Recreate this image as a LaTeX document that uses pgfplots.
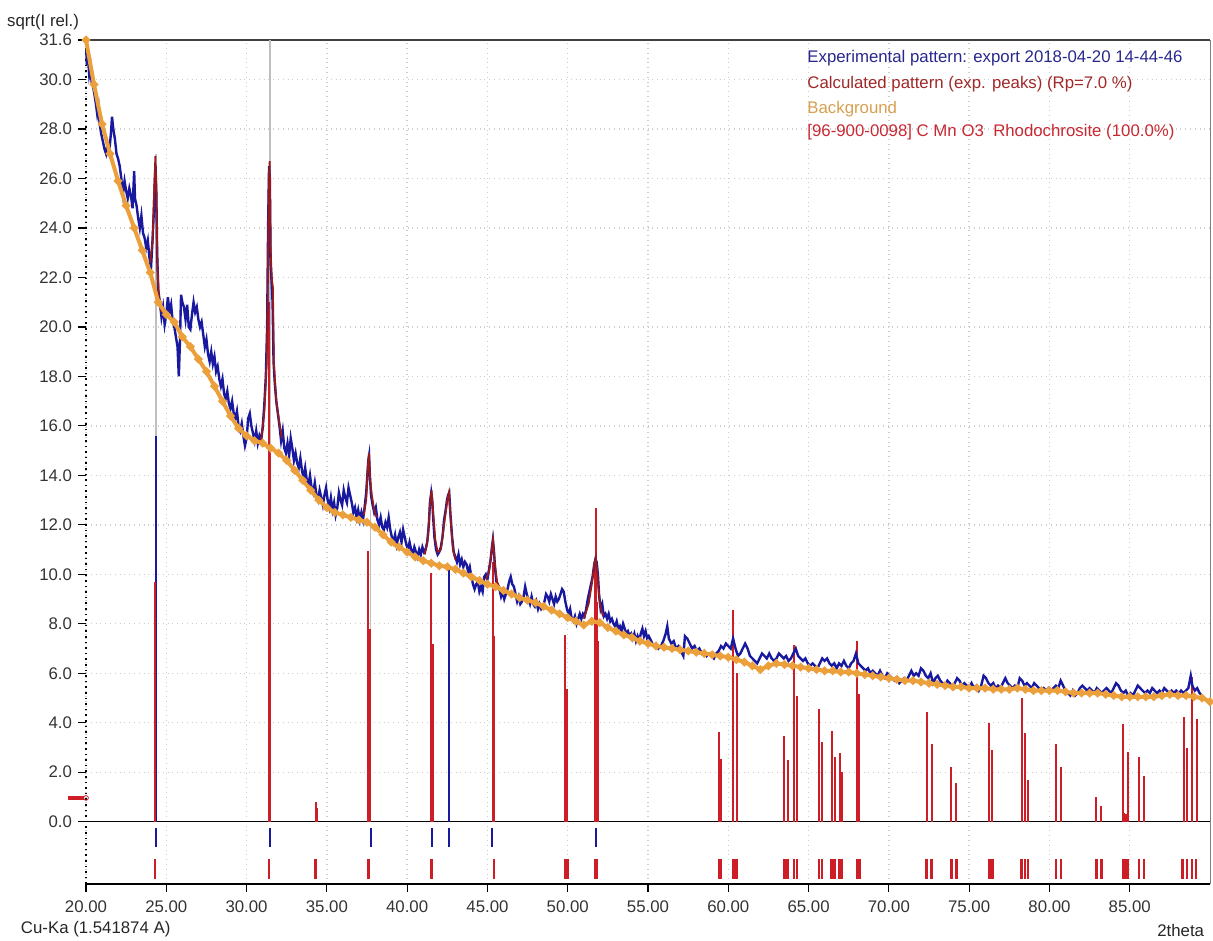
\documentclass[border=0pt]{standalone}
\usepackage{fontspec}
\setmainfont{Liberation Sans}
\usepackage{pgfplots}
\pgfplotsset{compat=1.18}
\definecolor{expblue}{RGB}{25,25,160}
\definecolor{calcred}{RGB}{150,25,30}
\definecolor{bgorange}{RGB}{235,160,60}
\definecolor{stickred}{RGB}{205,30,40}
\definecolor{gridgray}{RGB}{205,205,205}
\definecolor{legblue}{RGB}{40,40,140}
\definecolor{legcalc}{RGB}{160,40,40}
\definecolor{legbg}{RGB}{215,160,80}
\definecolor{legref}{RGB}{200,40,50}
\begin{document}
\fontsize{8.4}{10}\selectfont
\begin{tikzpicture}
\begin{axis}[name=ax,
  scale only axis, width=562pt, height=422pt,
  xmin=20, xmax=90, ymin=-2.52, ymax=31.6,
  clip=false,
  axis line style={draw=none},
  xtick={20,25,...,85}, ytick={0,2,...,30,31.6},
  xtick pos=left, ytick pos=left,
  tick align=outside, major tick length=4pt,
  tick style={black, line width=0.6pt},
  grid=major, major grid style={gridgray, dotted, line width=0.7pt},
  /pgf/number format/assume math mode=true,
  tick label style={font=\fontsize{8.4}{10}\selectfont, text=black!80},
  xticklabel style={yshift=-1.5pt, /pgf/number format/.cd, fixed, fixed zerofill, precision=2},
  yticklabel style={/pgf/number format/.cd, fixed, fixed zerofill, precision=1},
]
% frame
\draw[black!75, line width=1.2pt] (rel axis cs:0,1) -- (rel axis cs:1,1);
\draw[black, dotted, line width=0.8pt] (rel axis cs:0,0) -- (rel axis cs:0,1);
\draw[black, line width=0.8pt] (rel axis cs:0,0) -- (rel axis cs:1,0);
\draw[gray, line width=0.4pt] (rel axis cs:1,0) -- (rel axis cs:1,1);
\draw[black, line width=0.8pt] (axis cs:20,0) -- (axis cs:90,0);

% gray exp-peak guide lines
\addplot[ycomb, black!25, line width=0.6pt] coordinates {(24.36,27.0) (31.46,31.6) (37.73,12.6)};
% navy exp peak sticks
\addplot[ycomb, expblue, line width=0.9pt] coordinates {(24.36,15.6) (42.60,10.3)};

% reference sticks (Rhodochrosite)
\addplot[ycomb, stickred, line width=1.0pt] coordinates {
(24.30,9.7) (31.40,21.0) (31.47,14.9) (34.30,0.78) (34.37,0.56)
(37.58,10.96) (37.66,7.8) (41.50,10.07) (41.58,7.2) (45.32,10.5) (45.40,7.5)
(49.83,7.55) (49.97,5.35) (51.70,10.3) (51.76,12.67) (51.82,8.9) (51.88,7.3)
(59.43,3.64) (59.54,2.53) (60.31,8.56) (60.52,6.0) (63.50,3.48) (63.69,2.49)
(64.09,7.14) (64.27,5.08) (65.64,4.55) (65.83,3.23) (66.43,3.68) (66.62,2.61)
(66.93,2.79) (67.09,2.0) (68.01,7.30) (68.17,5.15) (72.36,4.45) (72.66,3.14)
(73.90,2.22) (74.21,1.55) (76.25,3.98) (76.44,2.90) (78.26,4.99) (78.47,3.57)
(78.67,1.69) (80.40,3.13) (80.71,2.22) (82.93,0.99) (83.24,0.65)
(84.59,3.95) (84.66,0.35) (84.74,0.3) (84.82,0.25) (84.90,2.80)
(85.57,2.63) (85.88,1.86) (88.39,4.25) (88.56,2.97) (88.87,5.84) (89.16,4.14)};

% experimental pattern
\addplot[expblue, line width=1.2pt] table {
20.02 31.2
20.05 30.6
20.12 30.9
20.20 30.2
20.28 30.5
20.35 29.9
20.45 29.7
20.55 29.3
20.62 29.0
20.70 28.6
20.78 28.9
20.85 28.2
20.95 27.8
21.05 27.5
21.15 27.2
21.25 27.0
21.35 27.4
21.45 27.1
21.55 27.8
21.62 28.5
21.70 28.0
21.80 27.6
21.90 27.0
22.00 26.8
22.10 26.5
22.20 26.0
22.30 25.4
22.40 25.9
22.50 25.5
22.60 25.2
22.70 25.6
22.80 25.3
22.90 24.8
23.00 26.3
23.05 25.2
23.15 24.9
23.25 24.4
23.35 24.0
23.45 24.5
23.55 23.8
23.65 23.6
23.75 23.2
23.85 23.5
23.95 22.8
24.05 22.4
24.15 23.6
24.22 24.6
24.28 25.8
24.33 26.5
24.38 25.4
24.43 23.0
24.50 21.5
24.60 21.0
24.70 20.4
24.80 20.8
24.90 20.1
25.00 20.5
25.10 21.2
25.20 20.6
25.30 20.9
25.40 20.2
25.50 20.0
25.60 19.6
25.70 19.2
25.78 18.0
25.85 19.4
25.92 21.3
26.00 21.0
26.10 20.8
26.20 20.3
26.30 20.9
26.40 20.0
26.50 19.9
26.60 20.5
26.70 21.0
26.80 20.6
26.90 20.8
27.00 20.3
27.10 20.0
27.20 20.2
27.30 19.7
27.40 19.2
27.50 19.5
27.60 18.9
27.70 18.6
27.80 19.0
27.90 18.5
28.00 18.8
28.10 18.2
28.20 18.4
28.30 17.9
28.40 17.6
28.50 17.9
28.60 17.3
28.70 17.1
28.80 17.4
28.90 16.9
29.00 16.7
29.10 17.0
29.20 16.5
29.30 16.3
29.40 16.6
29.50 16.0
29.60 15.8
29.70 16.1
29.80 15.6
29.90 15.2
30.00 15.5
30.10 16.3
30.20 16.5
30.30 16.0
30.40 15.7
30.50 15.4
30.60 15.8
30.70 15.3
30.80 15.6
30.90 15.4
31.00 15.9
31.10 16.8
31.20 18.0
31.28 20.0
31.34 24.0
31.40 26.5
31.45 26.0
31.50 22.5
31.56 21.8
31.62 21.0
31.68 18.6
31.75 17.8
31.85 17.0
31.95 16.5
32.05 16.0
32.15 15.4
32.25 15.8
32.35 15.1
32.45 14.9
32.55 15.3
32.65 14.8
32.75 15.5
32.85 15.1
32.95 14.6
33.05 14.9
33.15 14.5
33.25 14.3
33.35 14.7
33.45 14.2
33.55 13.9
33.65 14.3
33.75 13.8
33.85 13.6
33.95 14.0
34.05 13.5
34.15 13.3
34.25 13.7
34.35 13.2
34.45 13.0
34.55 13.4
34.65 13.1
34.75 12.8
34.85 13.2
34.95 13.5
35.05 13.0
35.15 12.7
35.25 13.1
35.35 12.6
35.45 12.9
35.55 12.4
35.65 12.7
35.75 13.3
35.85 13.0
35.95 12.8
36.05 13.4
36.15 13.1
36.25 12.9
36.35 13.5
36.45 13.2
36.55 12.9
36.65 12.5
36.75 12.7
36.85 12.3
36.95 12.6
37.05 12.2
37.15 12.5
37.25 12.2
37.35 12.7
37.45 13.3
37.52 14.0
37.58 14.6
37.63 14.8
37.68 14.0
37.75 13.2
37.85 12.8
37.95 12.5
38.05 12.7
38.15 12.2
38.25 12.0
38.35 12.3
38.45 11.9
38.55 11.8
38.65 12.1
38.75 11.9
38.85 12.3
38.95 11.8
39.05 11.5
39.15 11.3
39.25 11.6
39.35 11.2
39.45 11.5
39.55 11.7
39.65 11.3
39.75 11.8
39.85 11.5
39.95 11.2
40.05 11.0
40.15 11.3
40.25 11.0
40.35 10.8
40.45 11.1
40.55 10.9
40.65 10.7
40.75 11.0
40.85 10.8
40.95 11.1
41.05 10.9
41.15 11.0
41.25 11.3
41.35 12.0
41.42 12.9
41.50 13.3
41.56 13.0
41.63 12.2
41.70 11.5
41.80 11.0
41.90 10.8
42.00 10.9
42.10 11.1
42.20 11.5
42.30 12.2
42.40 12.6
42.48 13.0
42.55 13.2
42.62 13.3
42.70 12.4
42.80 11.5
42.90 10.9
43.00 10.7
43.10 10.5
43.20 10.8
43.30 10.4
43.40 10.6
43.50 10.3
43.60 10.5
43.70 10.4
43.80 10.1
43.90 10.3
44.00 9.9
44.10 9.6
44.20 9.4
44.30 9.6
44.40 9.7
44.50 9.3
44.60 9.5
44.70 9.3
44.80 9.9
44.90 10.0
45.00 9.8
45.10 10.2
45.20 10.6
45.28 11.1
45.34 11.4
45.40 11.0
45.48 10.2
45.56 9.7
45.65 9.5
45.75 9.4
45.85 9.1
45.95 9.3
46.05 9.0
46.15 9.2
46.25 9.4
46.35 9.7
46.45 9.9
46.55 9.6
46.65 9.5
46.75 9.2
46.85 8.9
46.95 9.1
47.05 8.8
47.15 8.9
47.25 9.1
47.35 9.5
47.45 9.2
47.55 9.0
47.65 8.8
47.75 9.1
47.85 8.8
47.95 8.7
48.05 8.9
48.15 8.6
48.25 8.8
48.35 8.6
48.45 8.7
48.55 8.9
48.65 9.2
48.75 9.1
48.85 8.9
48.95 9.2
49.05 9.0
49.15 8.8
49.25 9.1
49.35 8.9
49.45 9.0
49.55 9.2
49.65 9.4
49.75 9.3
49.85 8.9
49.95 8.6
50.05 8.4
50.15 8.6
50.25 8.2
50.35 8.1
50.45 8.3
50.55 8.0
50.65 8.2
50.75 8.4
50.85 8.2
50.95 8.4
51.05 8.3
51.15 8.6
51.25 9.0
51.35 9.3
51.45 9.6
51.55 9.9
51.65 10.4
51.72 10.6
51.80 10.5
51.88 10.0
51.95 9.2
52.05 8.6
52.15 8.8
52.25 8.3
52.35 8.4
52.45 8.2
52.55 8.4
52.65 8.1
52.75 8.2
52.85 8.0
52.95 7.9
53.05 8.1
53.15 7.8
53.25 7.9
53.35 7.7
53.45 8.0
53.55 7.8
53.65 7.6
53.75 7.7
53.85 7.5
53.95 7.6
54.05 7.4
54.15 7.6
54.25 7.3
54.35 7.5
54.45 7.3
54.55 7.6
54.65 7.8
54.75 7.5
54.85 7.7
54.95 7.4
55.05 7.5
55.20 7.3
55.35 7.1
55.50 7.2
55.65 7.0
55.80 7.1
55.95 7.3
56.10 7.6
56.20 7.9
56.30 7.4
56.45 7.2
56.60 7.3
56.75 7.0
56.90 7.1
57.05 6.9
57.20 6.7
57.30 7.5
57.45 7.4
57.60 7.2
57.75 7.0
57.90 7.1
58.05 6.9
58.20 7.0
58.35 6.8
58.50 6.9
58.65 6.7
58.80 6.8
58.95 6.7
59.10 6.6
59.25 6.8
59.40 6.9
59.55 7.1
59.70 7.0
59.85 7.2
60.00 7.1
60.15 7.0
60.30 7.4
60.45 7.0
60.60 6.7
60.75 6.8
60.90 7.0
61.05 7.2
61.20 7.0
61.35 6.7
61.50 6.6
61.65 6.5
61.80 6.4
61.95 6.6
62.10 6.8
62.25 6.7
62.40 6.6
62.55 6.8
62.70 6.6
62.85 6.5
63.00 6.6
63.15 6.8
63.30 6.7
63.45 6.6
63.60 6.7
63.75 6.5
63.90 6.6
64.05 6.8
64.20 7.0
64.35 6.7
64.50 6.6
64.65 6.5
64.80 6.6
64.95 6.4
65.10 6.3
65.25 6.4
65.40 6.3
65.55 6.2
65.70 6.4
65.85 6.6
66.00 6.5
66.15 6.6
66.30 6.4
66.45 6.3
66.60 6.4
66.75 6.2
66.90 6.4
67.05 6.3
67.20 6.5
67.35 6.3
67.50 6.2
67.65 6.4
67.80 6.5
67.95 6.8
68.10 6.4
68.25 6.3
68.40 6.2
68.55 6.1
68.70 6.2
68.85 6.0
69.00 6.1
69.15 6.0
69.30 5.9
69.45 6.1
69.60 5.9
69.75 5.8
69.90 6.0
70.05 5.9
70.20 5.8
70.35 5.7
70.50 5.8
70.65 5.6
70.80 5.7
70.95 5.8
71.10 5.7
71.25 5.9
71.40 6.1
71.55 5.9
71.70 6.0
71.85 5.9
72.00 6.2
72.15 6.1
72.30 5.9
72.45 5.8
72.60 6.0
72.75 5.6
72.90 5.8
73.05 5.9
73.20 5.7
73.35 5.6
73.50 5.5
73.65 5.7
73.80 5.6
73.95 5.4
74.10 5.6
74.25 5.8
74.40 5.7
74.55 5.5
74.70 5.6
74.85 5.5
75.00 5.4
75.15 5.6
75.30 5.4
75.45 5.5
75.60 5.3
75.75 5.5
75.90 5.9
76.05 5.8
76.20 5.6
76.35 5.5
76.50 5.6
76.65 5.4
76.80 5.5
76.95 5.4
77.10 5.6
77.25 5.8
77.40 5.6
77.55 5.5
77.70 5.4
77.85 5.5
78.00 5.4
78.15 5.8
78.30 5.7
78.45 5.5
78.60 5.6
78.75 5.5
78.90 5.4
79.05 5.6
79.20 5.5
79.35 5.4
79.50 5.3
79.65 5.4
79.80 5.3
79.95 5.4
80.10 5.3
80.25 5.4
80.40 5.5
80.55 5.4
80.70 5.7
80.85 5.5
81.00 5.3
81.15 5.2
81.30 5.1
81.45 5.3
81.60 5.1
81.75 5.2
81.90 5.4
82.05 5.5
82.20 5.4
82.35 5.3
82.50 5.4
82.65 5.3
82.80 5.2
82.95 5.4
83.10 5.3
83.25 5.2
83.40 5.3
83.55 5.4
83.70 5.3
83.85 5.2
84.00 5.4
84.15 5.6
84.30 5.5
84.45 5.3
84.60 5.2
84.75 5.3
84.90 5.1
85.05 5.2
85.20 5.1
85.35 5.3
85.50 5.5
85.65 5.4
85.80 5.3
85.95 5.2
86.10 5.3
86.25 5.2
86.40 5.4
86.55 5.3
86.70 5.2
86.85 5.3
87.00 5.2
87.15 5.4
87.30 5.3
87.45 5.2
87.60 5.3
87.75 5.2
87.90 5.3
88.05 5.2
88.20 5.3
88.35 5.2
88.50 5.3
88.65 5.4
88.80 5.9
88.90 5.5
89.05 5.3
89.20 5.4
89.35 5.2
89.50 5.1
89.65 5.0
89.80 4.9
89.95 4.8
};

% calculated pattern (peak regions)
\addplot[calcred, line width=0.9pt] coordinates {(24.00,22.6) (24.15,23.5) (24.25,25.6) (24.32,26.9) (24.38,25.6) (24.45,22.5) (24.55,21.0) (24.70,20.6)};
\addplot[calcred, line width=0.9pt] coordinates {(30.90,15.4) (31.10,16.5) (31.25,18.5) (31.32,21.5) (31.38,25.9) (31.44,26.7) (31.50,23.0) (31.58,21.9) (31.64,21.6) (31.70,18.5) (31.85,17.0) (32.00,16.3) (32.20,15.5)};
\addplot[calcred, line width=0.9pt] coordinates {(37.30,12.4) (37.45,13.0) (37.55,14.3) (37.62,14.9) (37.70,13.8) (37.80,13.2) (37.95,12.6) (38.10,12.3)};
\addplot[calcred, line width=0.9pt] coordinates {(41.10,10.8) (41.30,11.5) (41.42,12.8) (41.52,13.4) (41.62,12.5) (41.75,11.4) (41.90,10.9) (42.10,11.0) (42.30,12.0) (42.50,13.0) (42.60,13.3) (42.70,12.3) (42.85,11.0) (43.00,10.6)};
\addplot[calcred, line width=0.9pt] coordinates {(44.90,9.8) (45.10,10.1) (45.25,10.9) (45.35,11.4) (45.45,10.5) (45.60,9.7) (45.80,9.4)};
\addplot[calcred, line width=0.9pt] coordinates {(51.00,8.2) (51.30,8.8) (51.50,9.6) (51.65,10.4) (51.75,10.7) (51.85,10.0) (52.00,8.8) (52.20,8.3)};

% background
\addplot[bgorange, line width=2pt, mark=*, mark size=0.9pt, mark options={fill=bgorange!85!black, draw=none}] table {
20.0 31.6
20.5 29.8
21.0 28.2
21.5 27.0
22.0 25.9
22.5 24.9
23.0 24.0
23.5 23.1
24.0 22.2
24.5 21.0
25.0 20.5
25.5 20.2
26.0 19.6
26.5 19.2
27.0 18.7
27.5 18.2
28.0 17.6
28.5 17.0
29.0 16.4
29.5 15.9
30.0 15.6
30.5 15.4
31.0 15.3
31.5 15.1
32.0 14.9
32.5 14.6
33.0 14.2
33.5 13.8
34.0 13.4
34.5 13.0
35.0 12.7
35.5 12.5
36.0 12.4
36.5 12.3
37.0 12.2
37.5 12.1
38.0 11.9
38.5 11.6
39.0 11.3
39.5 11.1
40.0 10.9
40.5 10.7
41.0 10.55
41.5 10.45
42.0 10.35
42.5 10.3
43.0 10.2
43.5 10.05
44.0 9.9
44.5 9.75
45.0 9.6
45.5 9.5
46.0 9.35
46.5 9.2
47.0 9.05
47.5 8.95
48.0 8.85
48.5 8.7
49.0 8.55
49.5 8.4
50.0 8.25
50.5 8.1
51.0 7.95
51.5 8.1
52.0 8.05
52.5 7.85
53.0 7.7
53.5 7.55
54.0 7.45
54.5 7.3
55.0 7.2
55.5 7.1
56.0 7.05
56.5 7.0
57.0 6.95
57.5 6.9
58.0 6.85
58.5 6.8
59.0 6.75
59.5 6.7
60.0 6.65
60.5 6.55
61.0 6.45
61.5 6.3
62.0 6.15
62.5 6.3
63.0 6.4
63.5 6.35
64.0 6.3
64.5 6.25
65.0 6.2
65.5 6.15
66.0 6.1
66.5 6.1
67.0 6.05
67.5 6.05
68.0 6.0
68.5 5.95
69.0 5.9
69.5 5.85
70.0 5.8
70.5 5.75
71.0 5.7
71.5 5.7
72.0 5.65
72.5 5.6
73.0 5.55
73.5 5.5
74.0 5.45
74.5 5.45
75.0 5.4
75.5 5.4
76.0 5.4
76.5 5.35
77.0 5.35
77.5 5.35
78.0 5.4
78.5 5.35
79.0 5.3
79.5 5.3
80.0 5.3
80.5 5.3
81.0 5.25
81.5 5.2
82.0 5.2
82.5 5.2
83.0 5.2
83.5 5.15
84.0 5.1
84.5 5.05
85.0 5.05
85.5 5.05
86.0 5.05
86.5 5.05
87.0 5.1
87.5 5.15
88.0 5.1
88.5 5.1
89.0 5.05
89.5 5.0
90.0 4.85
};

% strip: experimental peak markers
\addplot[only marks, mark=|, mark size=4.75pt, expblue, mark options={line width=1pt}] coordinates {
(24.35,-0.635) (31.46,-0.635) (37.75,-0.635) (41.55,-0.635) (42.60,-0.635) (45.30,-0.635) (51.76,-0.635)};
% strip: reference markers
\addplot[only marks, mark=|, mark size=4.95pt, stickred, mark options={line width=1.3pt}] coordinates {
(24.30,-1.91) (31.40,-1.91) (34.30,-1.91) (37.60,-1.91) (41.50,-1.91) (45.40,-1.91)
(49.83,-1.91) (49.97,-1.91) (51.70,-1.91) (51.76,-1.91) (51.82,-1.91)
(59.43,-1.91) (59.54,-1.91) (60.31,-1.91) (60.52,-1.91) (63.50,-1.91) (63.69,-1.91)
(64.09,-1.91) (64.27,-1.91) (65.64,-1.91) (65.83,-1.91) (66.43,-1.91) (66.62,-1.91)
(66.93,-1.91) (67.09,-1.91) (68.01,-1.91) (68.17,-1.91) (72.36,-1.91) (72.66,-1.91)
(73.90,-1.91) (74.21,-1.91) (76.25,-1.91) (76.44,-1.91) (78.26,-1.91) (78.47,-1.91)
(78.67,-1.91) (80.40,-1.91) (80.71,-1.91) (82.93,-1.91) (83.24,-1.91)
(84.59,-1.91) (84.66,-1.91) (84.74,-1.91) (84.82,-1.91) (84.90,-1.91)
(85.57,-1.91) (85.88,-1.91) (88.30,-1.91) (88.56,-1.91) (88.87,-1.91) (89.12,-1.91)};

% offset marker at left
\addplot[stickred, line width=2pt] coordinates {(18.88,0.96) (19.85,0.96)};
\addplot[only marks, mark=o, mark size=1.2pt, stickred] coordinates {(20,0.96)};

% texts
\node[anchor=base east, text=black!85] at (rel axis cs:0,1) [xshift=-0.5pt, yshift=6.5pt] {sqrt(I rel.)};
\node[anchor=base west, text=black!85] at (rel axis cs:0,0) [xshift=-35.5pt, yshift=-24.5pt] {Cu-Ka (1.541874 A)};
\node[anchor=base east, text=black!85] at (rel axis cs:1,0) [yshift=-26pt] {2theta};
\node[anchor=base west, text=legblue] at (rel axis cs:0.6365,1) [yshift=-11.5pt] {Experimental pattern: export 2018-04-20 14-44-46};
\node[anchor=base west, text=legcalc] at (rel axis cs:0.6365,1) [yshift=-24.5pt] {Calculated pattern (exp. peaks) (Rp=7.0 \%)};
\node[anchor=base west, text=legbg] at (rel axis cs:0.6365,1) [yshift=-36.5pt] {Background};
\node[anchor=base west, text=legref] at (rel axis cs:0.6365,1) [yshift=-48pt] {[96-900-0098] C Mn O3~~Rhodochrosite (100.0\%)};
\end{axis}
\pgfresetboundingbox
\path ([shift={(-43pt,-28pt)}]ax.south west) rectangle ([shift={(1.5pt,20pt)}]ax.north east);
\end{tikzpicture}
\end{document}
